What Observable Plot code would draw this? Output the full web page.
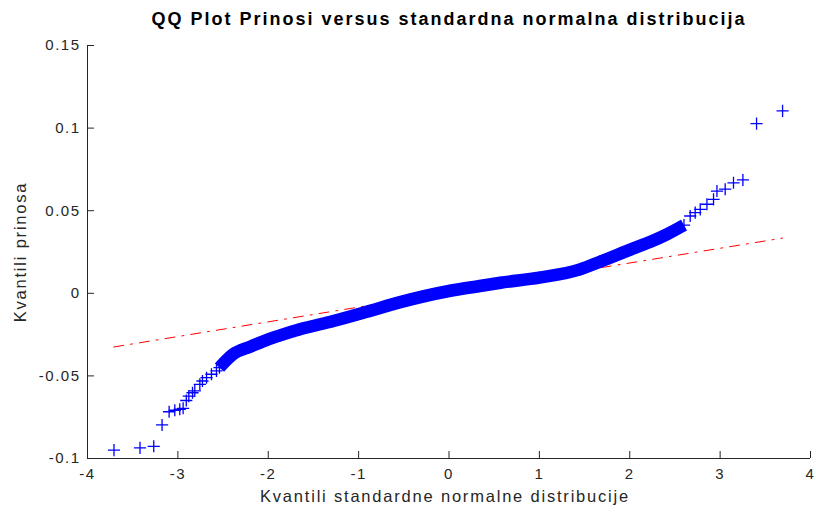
<!DOCTYPE html>
<html><head><meta charset="utf-8">
<script src="https://cdn.jsdelivr.net/npm/d3@7"></script>
<script src="https://cdn.jsdelivr.net/npm/@observablehq/plot@0.6"></script>
<style>
body{margin:0;background:#fff;}
#chart svg{font-family:"Liberation Sans",Arial,Helvetica,sans-serif;background:#fff;}
</style></head><body><div id="chart"></div>
<script>
// Discrete tail points (theoretical quantile, sample quantile)
const tailQ = [-3.707, -3.419, -3.267, -3.175, -3.097, -3.034, -2.979, -2.942, -2.907, -2.879, -2.838, -2.813, -2.757, -2.728, -2.683, -2.628, -2.573,
               2.669, 2.724, 2.780, 2.854, 2.927, 2.965, 3.056, 3.148, 3.252, 3.403, 3.691];
const tailV = [-0.0949, -0.0936, -0.0926, -0.0797, -0.0717, -0.0708, -0.0702, -0.0696, -0.0649, -0.0622, -0.0602, -0.0591, -0.0551, -0.0531, -0.0511, -0.0490, -0.0470,
               0.0468, 0.0488, 0.0508, 0.0539, 0.0569, 0.0619, 0.0630, 0.0669, 0.0686, 0.1027, 0.1104];
// Dense central band (read along its centre)
const bandQ = [-2.54, -2.39, -2.20, -2.02, -1.87, -1.65, -1.28, -0.91, -0.55, 0.0, 0.34, 0.57, 1.00, 1.45, 1.67, 2.04, 2.23, 2.41, 2.60];
const bandV = [-0.0450, -0.0369, -0.0323, -0.0283, -0.0255, -0.0218, -0.0168, -0.0112, -0.0055, 0.0014, 0.0044, 0.0064, 0.0095, 0.0145, 0.0191, 0.0272, 0.0312, 0.0357, 0.0413];
// Reference line (fitted through quartiles)
const refQ = [-3.71, 3.69];
const refV = [-0.0325, 0.0334];
// Axes
const xTicks = [-4, -3, -2, -1, 0, 1, 2, 3, 4];
const yTicks = [-0.1, -0.05, 0, 0.05, 0.1, 0.15];
const xDomain = [-4, 4];
const yDomain = [-0.1, 0.15];
const titleText = "QQ Plot Prinosi versus standardna normalna distribucija";
const xLabel = "Kvantili standardne normalne distribucije";
const yLabel = "Kvantili prinosa";

const tails = tailQ.map((q, i) => ({q, v: tailV[i]}));
const band = bandQ.map((q, i) => ({q, v: bandV[i]}));
const ref = refQ.map((q, i) => ({q, v: refV[i]}));
const axisColor = "#262626";

const chart = Plot.plot({
  width: 816,
  height: 512,
  marginLeft: 87,
  marginRight: 6,
  marginTop: 45,
  marginBottom: 54,
  x: {domain: xDomain, axis: null},
  y: {domain: yDomain, axis: null},
  marks: [
    Plot.line(ref, {x: "q", y: "v", stroke: "#ff0000", strokeWidth: 1, strokeDasharray: "10,7,2,7"}),
    Plot.line(band, {x: "q", y: "v", stroke: "#0000ff", strokeWidth: 12.5, strokeLinejoin: "round", strokeLinecap: "butt", curve: "monotone-x"}),
    Plot.dot(tails.concat(band), {x: "q", y: "v", symbol: "plus", r: 4, stroke: "#0000ff", strokeWidth: 1.3}),
    Plot.ruleX([xDomain[0]], {stroke: axisColor}),
    Plot.ruleY([yDomain[0]], {stroke: axisColor}),
    Plot.axisX({ticks: xTicks, tickSize: -7, tickPadding: 16.7, tickFormat: d => String(d), fontSize: 15, color: axisColor, label: null}),
    Plot.axisY({ticks: yTicks, tickSize: -7, tickPadding: 14, tickFormat: d => String(d), fontSize: 15, color: axisColor, label: null}),
    Plot.text([titleText], {frameAnchor: "top", dy: -26.5, textAnchor: "middle", lineAnchor: "middle", fontSize: 18, fontWeight: "bold", fill: "#000"}),
    Plot.text([xLabel], {frameAnchor: "bottom", dx: -4, dy: 38.5, textAnchor: "middle", lineAnchor: "middle", fontSize: 16.5, fill: axisColor}),
    Plot.text([yLabel], {frameAnchor: "left", dx: -67, textAnchor: "middle", lineAnchor: "middle", rotate: -90, fontSize: 16.5, fill: axisColor})
  ]
});
// MATLAB-style wide letter spacing
chart.querySelectorAll("text").forEach(t => {
  const s = t.textContent;
  let ls = 1.5;
  if (s === titleText) ls = 2;
  else if (s === xLabel || s === yLabel) ls = 1.8;
  t.setAttribute("letter-spacing", ls);
  t.style.letterSpacing = ls + "px";
});
document.getElementById("chart").appendChild(chart);
</script></body></html>
